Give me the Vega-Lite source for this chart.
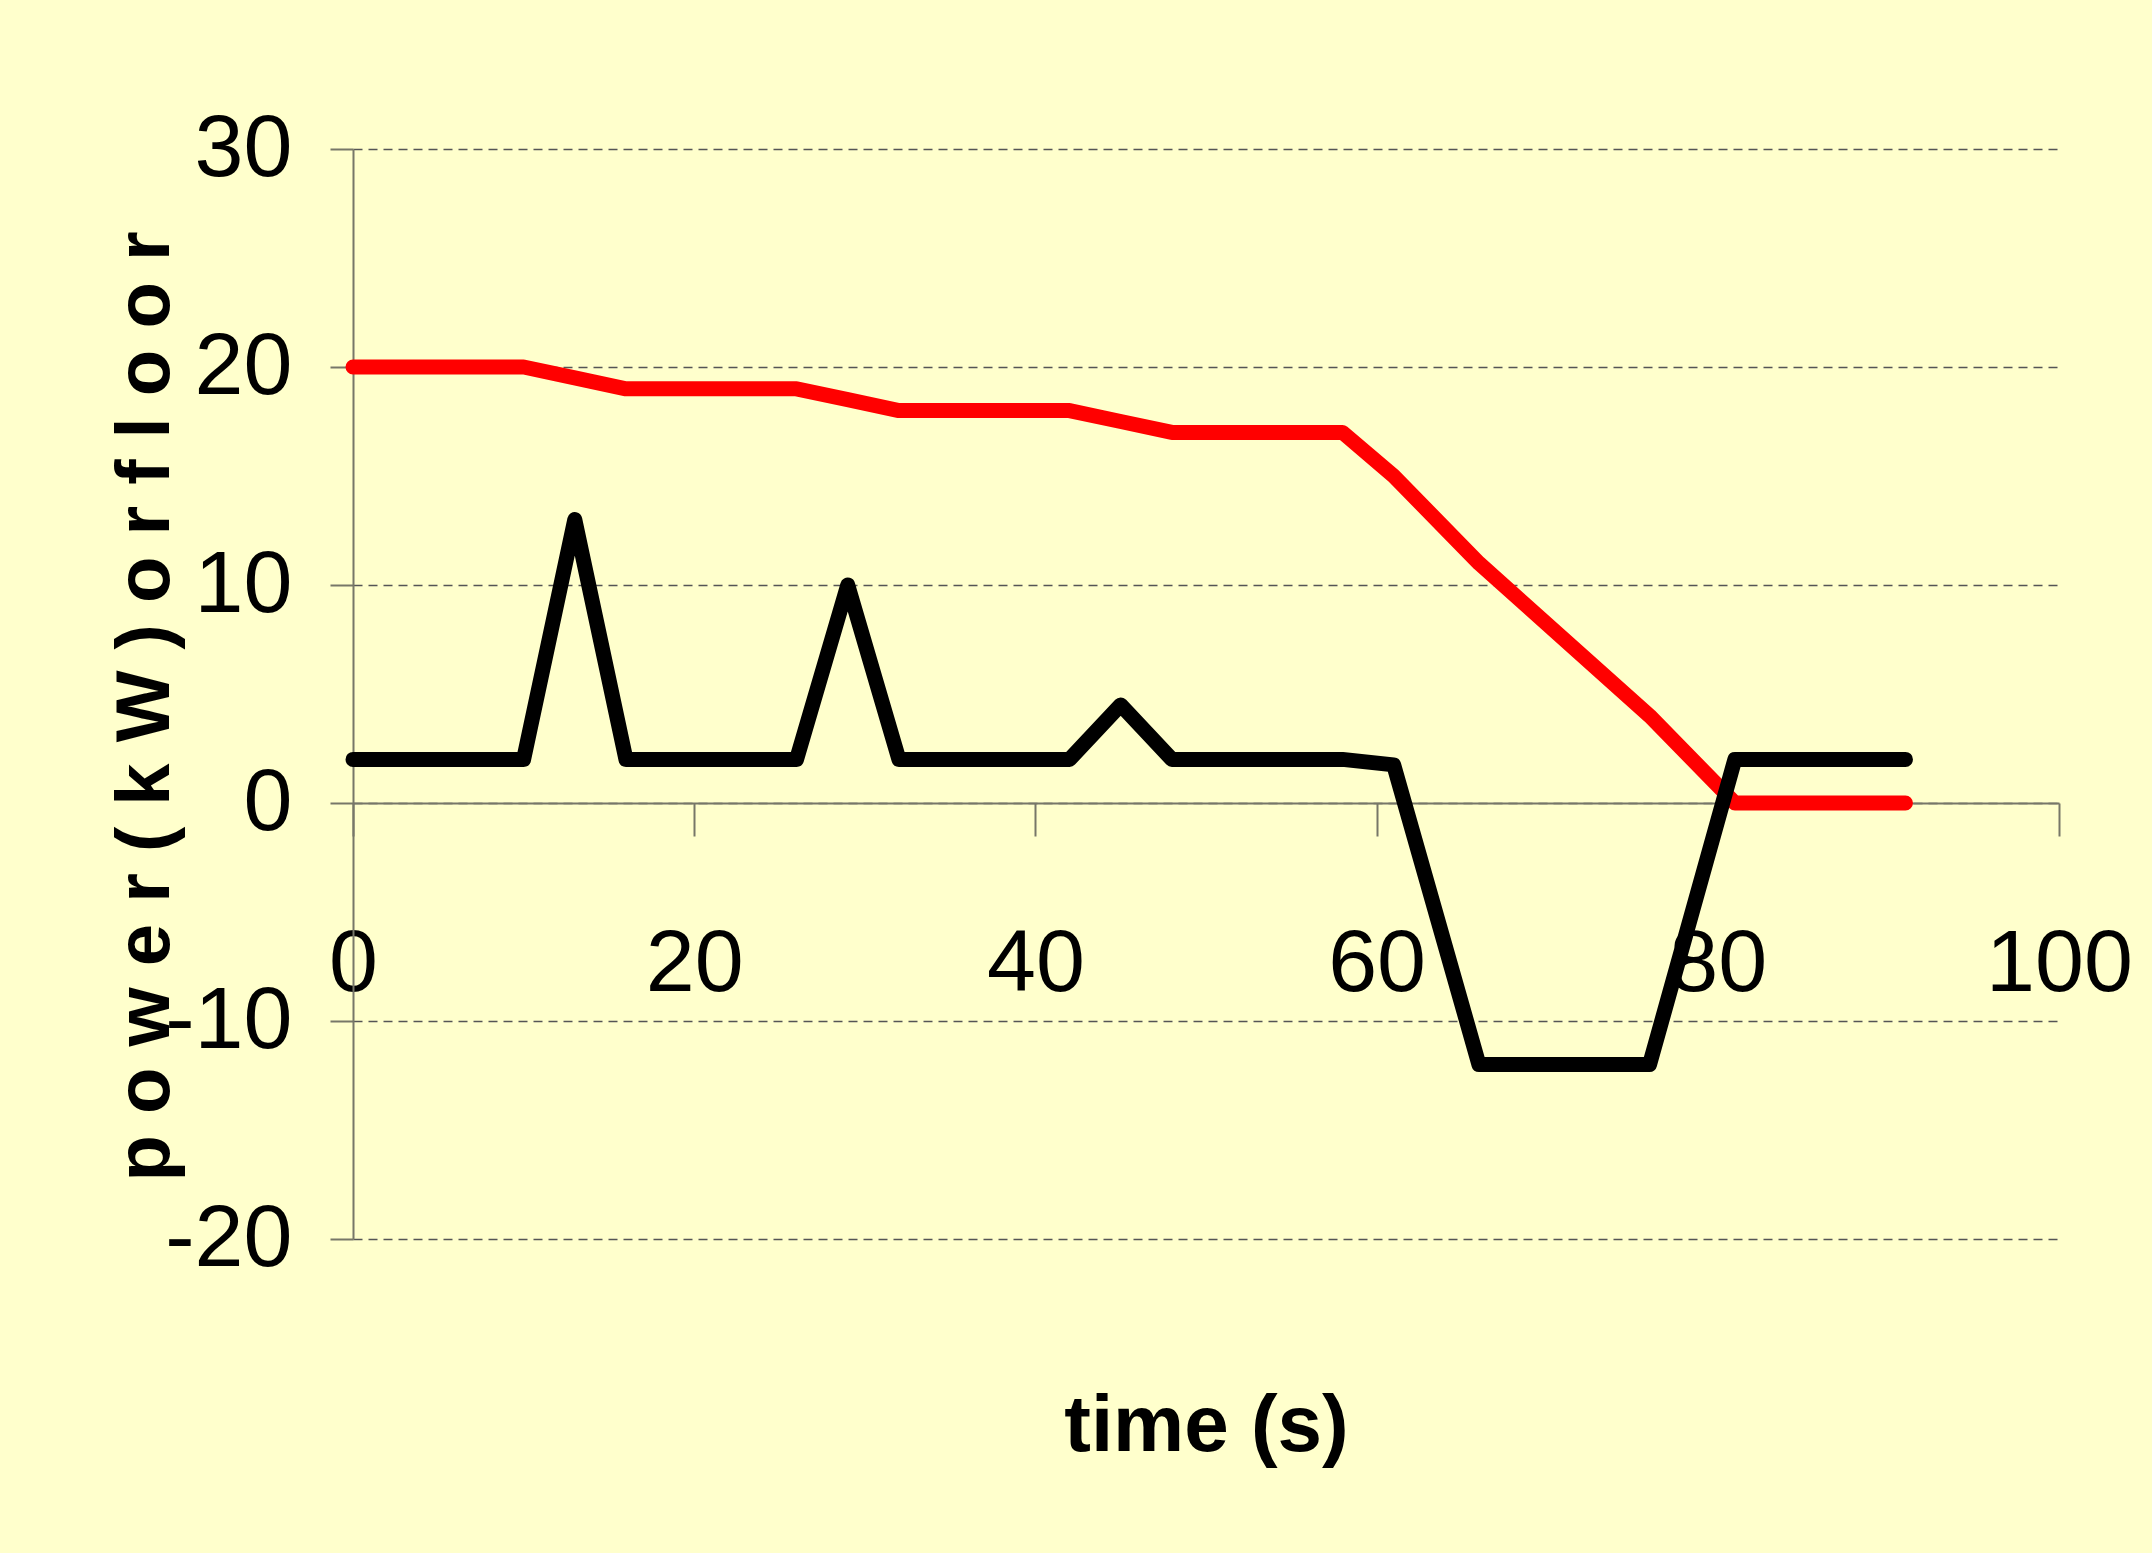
{
  "$schema": "https://vega.github.io/schema/vega-lite/v6.json",
  "autosize": {"type": "none"},
  "width": 1706,
  "height": 1090,
  "padding": {"left": 353, "top": 149, "right": 93, "bottom": 314},
  "background": "#FFFFCC",
  "config": {
    "view": {"stroke": null},
    "font": "Liberation Sans"
  },
  "data": {
    "values": [
      {"t": 0, "power": 2, "floor": 20},
      {"t": 10, "power": 2, "floor": 20},
      {"t": 13, "power": 13, "floor": 19.5},
      {"t": 16, "power": 2, "floor": 19},
      {"t": 26, "power": 2, "floor": 19},
      {"t": 29, "power": 10, "floor": 18.5},
      {"t": 32, "power": 2, "floor": 18},
      {"t": 42, "power": 2, "floor": 18},
      {"t": 45, "power": 4.5, "floor": 17.5},
      {"t": 48, "power": 2, "floor": 17},
      {"t": 58, "power": 2, "floor": 17},
      {"t": 61, "power": 1.75, "floor": 15},
      {"t": 66, "power": -12, "floor": 11},
      {"t": 76, "power": -12, "floor": 4},
      {"t": 81, "power": 2, "floor": 0},
      {"t": 91, "power": 2, "floor": 0}
    ]
  },
  "encoding": {
    "x": {
      "field": "t",
      "type": "quantitative",
      "scale": {"domain": [0, 100], "nice": false, "zero": false},
      "axis": {
        "title": "time (s)",
        "offset": -436,
        "values": [0, 20, 40, 60, 80, 100],
        "grid": false,
        "domainColor": "#777768",
        "domainWidth": 2,
        "tickColor": "#777768",
        "tickWidth": 2,
        "tickSize": 33,
        "labelFlush": false,
        "labelOverlap": false,
        "labelFont": "Liberation Sans",
        "labelFontSize": 88,
        "labelColor": "#000000",
        "labelBaseline": "alphabetic",
        "labelPadding": 154,
        "titleFont": "Liberation Sans",
        "titleFontSize": 80,
        "titleFontWeight": "bold",
        "titleColor": "#000000",
        "titleBaseline": "alphabetic",
        "titleX": 853,
        "titleY": 647
      }
    }
  },
  "layer": [
    {
      "mark": {"type": "line", "color": "#FF0000", "strokeWidth": 15, "strokeCap": "round", "strokeJoin": "round"},
      "encoding": {
        "y": {
          "field": "floor",
          "type": "quantitative",
          "scale": {"domain": [-20, 30], "nice": false, "zero": false},
          "axis": {
            "title": "p o w e r ( k W ) o r f l o o r",
            "values": [-20, -10, 0, 10, 20, 30],
            "labelExpr": "datum.value < 0 ? '-' + abs(datum.value) : '' + datum.value",
            "grid": true,
            "gridColor": "#555555",
            "gridWidth": 1.5,
            "gridDash": [9, 6],
            "domainColor": "#777768",
            "domainWidth": 2,
            "tickColor": "#777768",
            "tickWidth": 2,
            "tickSize": 23,
            "labelOverlap": false,
            "labelFont": "Liberation Sans",
            "labelFontSize": 88,
            "labelColor": "#000000",
            "labelPadding": 38,
            "titleFont": "Liberation Sans",
            "titleFontSize": 76,
            "titleFontWeight": "bold",
            "titleColor": "#000000",
            "titleAngle": 270,
            "titleBaseline": "alphabetic",
            "titleAlign": "center",
            "titleX": -185,
            "titleY": 557
          }
        }
      }
    },
    {
      "mark": {"type": "line", "color": "#000000", "strokeWidth": 15, "strokeCap": "round", "strokeJoin": "round"},
      "encoding": {
        "y": {"field": "power", "type": "quantitative"}
      }
    }
  ]
}
